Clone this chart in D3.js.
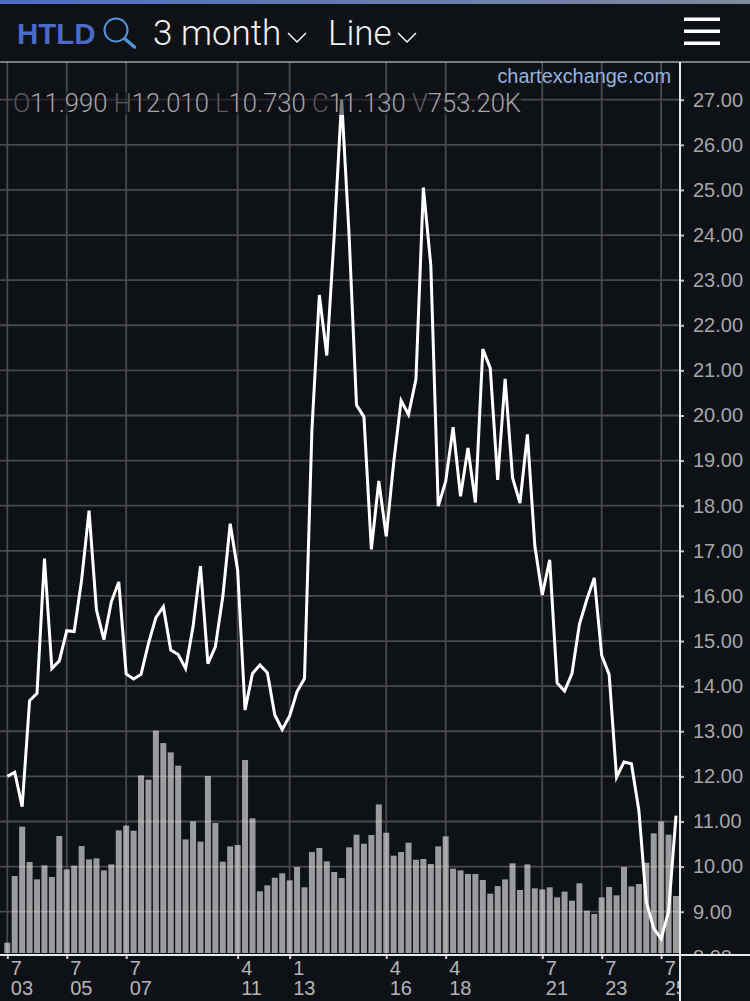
<!DOCTYPE html>
<html>
<head>
<meta charset="utf-8">
<script src="https://cdn.jsdelivr.net/npm/d3@7"></script>
<style>
  html, body { margin: 0; padding: 0; background: #0e1116; }
  svg { display: block; font-family: "Liberation Sans", sans-serif; }
</style>
</head>
<body>
<div id="chart"></div>
<script>
// Close price per session
const closes = [
  12.00, 12.09, 11.33, 13.68, 13.84, 16.83, 14.39, 14.56, 15.23, 15.21,
  16.35, 17.89, 15.69, 15.03, 15.87, 16.31, 14.27, 14.16, 14.26, 14.95,
  15.52, 15.76, 14.80, 14.70, 14.39, 15.32, 16.66, 14.50, 14.87, 15.98,
  17.60, 16.57, 13.47, 14.28, 14.47, 14.30, 13.36, 13.04, 13.34, 13.88,
  14.17, 19.69, 22.67, 21.33, 24.00, 27.00, 24.00, 20.23, 19.97, 17.03,
  18.55, 17.32, 18.95, 20.33, 20.02, 20.80, 25.05, 23.33, 17.99, 18.54,
  19.74, 18.21, 19.28, 18.07, 21.47, 21.05, 18.57, 20.81, 18.62, 18.06,
  19.58, 17.11, 16.02, 16.80, 14.07, 13.89, 14.28, 15.37, 15.92, 16.40,
  14.68, 14.26, 11.98, 12.32, 12.28, 11.25, 9.22, 8.63, 8.40, 9.00, 11.13
];

// Volume per session, in thousands
const volumes = [
  136, 1016, 1668, 1201, 972, 1157, 1003, 1544, 1104, 1153,
  1412, 1236, 1250, 1091, 1170, 1619, 1681, 1615, 2345, 2288,
  2935, 2772, 2649, 2473, 1500, 1738, 1470, 2336, 1716, 1206,
  1408, 1426, 2548, 1778, 814, 893, 994, 1052, 959, 1135,
  867, 1333, 1386, 1210, 1069, 990, 1395, 1562, 1443, 1558,
  1962, 1588, 1285, 1333, 1456, 1232, 1241, 1175, 1408, 1540,
  1113, 1091, 1043, 1043, 964, 783, 884, 972, 1184, 832,
  1170, 854, 840, 867, 735, 810, 691, 920, 559, 515,
  735, 871, 761, 1135, 880, 911, 1192, 1580, 1738, 1562, 752
];

// Session index of each date label, with its month and day lines
const tickIndex = [0, 8, 16, 31, 38, 51, 59, 72, 80, 88];
const tickMonth = ['7', '7', '7', '4', '1', '4', '4', '7', '7', '7'];
const tickDay = ['03', '05', '07', '11', '13', '16', '18', '21', '23', '25'];

const priceTicks = d3.range(8, 28);
const ohlcLabels = ['O', 'H', 'L', 'C', 'V'];
const ohlcValues = ['11.990', '12.010', '10.730', '11.130', '753.20K'];

const width = 750;
const height = 1001;
const bg = '#0e1116';
const gridColor = '#4a4a4c';
const axisX = 680;
const axisY = 955;
const topY = 62;

const svg = d3.select('#chart').append('svg')
  .attr('width', width)
  .attr('height', height);

const defs = svg.append('defs');

svg.append('rect').attr('width', width).attr('height', height).attr('fill', bg);

// Thin gradient strip along the very top
const grad = defs.append('linearGradient').attr('id', 'strip');
grad.append('stop').attr('offset', '0%').attr('stop-color', '#4c6cc6');
grad.append('stop').attr('offset', '100%').attr('stop-color', '#808a9c');
svg.append('rect').attr('width', width).attr('height', 4).attr('fill', 'url(#strip)');

const x = d3.scaleLinear().domain([0, closes.length - 1]).range([7.3, 676]);
const y = d3.scaleLinear().domain([9, 27]).range([911.7, 99.7]);
const volumeY = d3.scaleLinear().domain([0, 2935]).range([953, 730.7]);

// The price labels stop at the date axis, the date labels stop at the price axis
defs.append('clipPath').attr('id', 'right-clip')
  .append('rect').attr('x', 0).attr('y', topY).attr('width', width).attr('height', axisY - topY);
defs.append('clipPath').attr('id', 'bottom-clip')
  .append('rect').attr('x', 0).attr('y', 0).attr('width', axisX).attr('height', 60);

// Grid
const grid = svg.append('g').attr('stroke', gridColor).attr('stroke-width', 1.8);
grid.selectAll('line.h')
  .data(priceTicks.filter(d => d > 8))
  .join('line')
    .attr('class', 'h')
    .attr('x1', 0)
    .attr('x2', axisX)
    .attr('y1', d => y(d))
    .attr('y2', d => y(d));
grid.selectAll('line.v')
  .data(tickIndex)
  .join('line')
    .attr('class', 'v')
    .attr('x1', d => x(d))
    .attr('x2', d => x(d))
    .attr('y1', topY)
    .attr('y2', axisY);

// Volume bars, see-through so the grid shows up in them
svg.append('g').selectAll('rect')
  .data(volumes)
  .join('rect')
    .attr('x', (d, i) => x(i) - 3)
    .attr('y', d => volumeY(d))
    .attr('width', 6)
    .attr('height', d => volumeY(0) - volumeY(d))
    .attr('fill', '#fff')
    .attr('fill-opacity', 0.58);

// Close line
const line = d3.line().x((d, i) => x(i)).y(d => y(d));
svg.append('path')
  .datum(closes)
  .attr('d', line)
  .attr('fill', 'none')
  .attr('stroke', '#fff')
  .attr('stroke-width', 3)
  .attr('stroke-linejoin', 'miter');

// Price axis on the right
const yAxis = svg.append('g')
  .attr('transform', `translate(${axisX},0)`)
  .call(d3.axisRight(y).tickValues(priceTicks).tickFormat(d3.format('.2f')).tickSize(4).tickPadding(9));
yAxis.select('.domain').remove();
yAxis.selectAll('line').attr('stroke', '#bbb').attr('stroke-width', 2);
yAxis.selectAll('text')
  .attr('fill', '#a6a6a8')
  .style('font-size', '20px')
  .style('font-family', '"Liberation Sans", sans-serif');
yAxis.attr('clip-path', 'url(#right-clip)');
yAxis.selectAll('.tick').attr('clip-path', null);

// Date axis, two lines per tick
const xAxis = svg.append('g')
  .attr('transform', `translate(0,${axisY})`)
  .attr('clip-path', 'url(#bottom-clip)')
  .call(d3.axisBottom(x).tickValues(tickIndex).tickFormat('').tickSize(4));
xAxis.select('.domain').remove();
xAxis.selectAll('line').attr('stroke', '#ccc').attr('stroke-width', 2);
const tickLabels = xAxis.selectAll('g.tick');
tickLabels.append('text')
  .attr('x', 3).attr('y', 20).attr('text-anchor', 'start').attr('fill', '#b4b4b6')
  .style('font-size', '20px')
  .text((d, i) => tickMonth[i]);
tickLabels.append('text')
  .attr('x', 3).attr('y', 40).attr('text-anchor', 'start').attr('fill', '#b4b4b6')
  .style('font-size', '20px')
  .text((d, i) => tickDay[i]);

// Axis frame
svg.append('line').attr('x1', 0).attr('x2', width).attr('y1', topY).attr('y2', topY)
  .attr('stroke', '#e8e8e8').attr('stroke-width', 1);
svg.append('line').attr('x1', axisX).attr('x2', axisX).attr('y1', topY).attr('y2', height)
  .attr('stroke', '#e8e8e8').attr('stroke-width', 2);
svg.append('line').attr('x1', 0).attr('x2', width).attr('y1', axisY).attr('y2', axisY)
  .attr('stroke', '#e8e8e8').attr('stroke-width', 2);

// OHLC read-out sits on a dim band that greys out the line tip
svg.append('rect').attr('x', 13).attr('y', 92).attr('width', 509).attr('height', 23)
  .attr('fill', bg).attr('fill-opacity', 0.55);
const ohlc = svg.append('text')
  .attr('x', 13).attr('y', 112)
  .style('font-family', 'Roboto, sans-serif')
  .style('font-weight', 300)
  .style('font-size', '25.6px');
ohlcLabels.forEach((label, i) => {
  ohlc.append('tspan').attr('fill', '#5c5c60').text(label);
  ohlc.append('tspan').attr('fill', '#a4a4a6').text(ohlcValues[i] + ' ');
});

svg.append('text')
  .attr('x', 671).attr('y', 83)
  .attr('text-anchor', 'end')
  .attr('fill', '#94b4de')
  .style('font-size', '19.9px')
  .text('chartexchange.com');

// Header
svg.append('text')
  .attr('x', 17).attr('y', 44)
  .attr('fill', '#4a6bc8')
  .style('font-family', '"Liberation Sans Narrow", "Liberation Sans", sans-serif')
  .style('font-weight', 700)
  .style('font-size', '29.5px')
  .text('HTLD');

const lens = svg.append('g').attr('fill', 'none').attr('stroke', '#4f95dc');
lens.append('circle').attr('cx', 116).attr('cy', 30).attr('r', 11.5).attr('stroke-width', 2);
lens.append('line').attr('x1', 125).attr('y1', 39).attr('x2', 134.5).attr('y2', 47)
  .attr('stroke-width', 3.5).attr('stroke-linecap', 'round');

const headerText = [['3 month', 153], ['Line', 328]];
svg.append('g').selectAll('text')
  .data(headerText)
  .join('text')
    .attr('x', d => d[1])
    .attr('y', 45)
    .attr('fill', '#f2f2f2')
    .style('font-family', 'Roboto, sans-serif')
    .style('font-weight', 300)
    .style('font-size', '35px')
    .text(d => d[0]);

// Dropdown chevrons
svg.append('g').selectAll('path')
  .data([297, 407])
  .join('path')
    .attr('d', d => `M${d - 9},33 L${d},42 L${d + 9},33`)
    .attr('fill', 'none')
    .attr('stroke', '#f2f2f2')
    .attr('stroke-width', 1.5);

// Menu icon
svg.append('g').selectAll('rect')
  .data([18, 30, 42])
  .join('rect')
    .attr('x', 684)
    .attr('y', d => d - 0.5)
    .attr('width', 36)
    .attr('height', 3.5)
    .attr('fill', '#fff');
</script>
</body>
</html>
